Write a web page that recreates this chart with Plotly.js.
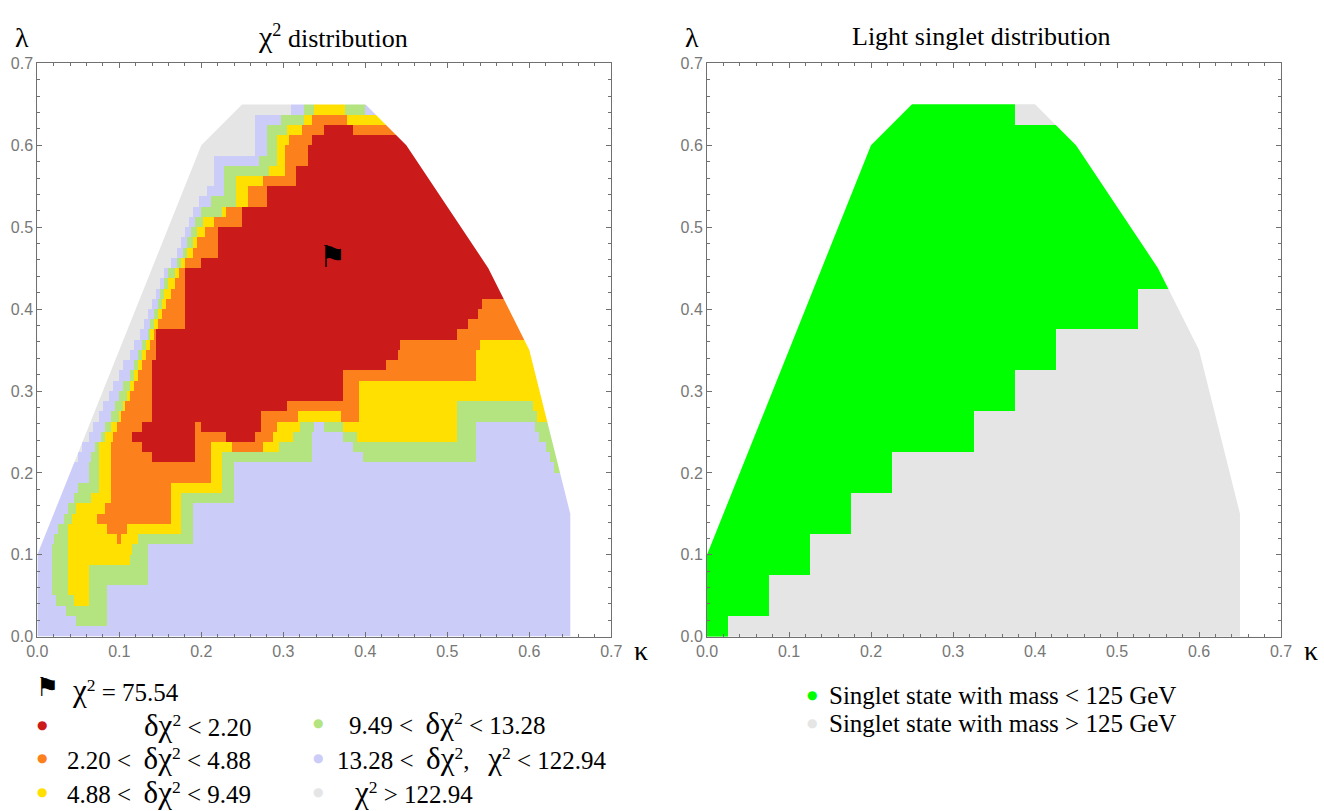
<!DOCTYPE html>
<html>
<head>
<meta charset="utf-8">
<script src="https://cdn.plot.ly/plotly-3.0.1.min.js"></script>
<style>
  html, body { margin: 0; padding: 0; background: #fff; }
  #plot { width: 1324px; height: 811px; }
</style>
</head>
<body>
<div id="plot"></div>
<script>
// scan grid, same points in both panels
const kappaGrid = [0, 0.05, 0.1, 0.15, 0.2, 0.25, 0.3, 0.35, 0.4, 0.45, 0.5, 0.55, 0.6, 0.65];
const lambdaGrid = [0, 0.05, 0.1, 0.15, 0.2, 0.25, 0.3, 0.35, 0.4, 0.45, 0.5, 0.55, 0.6, 0.65];
// highest lambda scanned at each kappa (every column starts at lambda = 0)
const scanTop = [0.1, 0.2, 0.35, 0.45, 0.6, 0.65, 0.65, 0.65, 0.65, 0.6, 0.5, 0.45, 0.35, 0.15];

// right panel: 1 = singlet lighter than 125 GeV, 0 = heavier. rows from lambda 0.65 down to 0
const singletRows = [
  '11111111011100',
  '11111111111100',
  '11111111111100',
  '11111111111100',
  '11111111111100',
  '11111111111000',
  '11111111100000',
  '11111111000000',
  '11111110000000',
  '11111000000000',
  '11110000000000',
  '11100000000000',
  '11000000000000',
  '10000000000000'
];
const singletColors = ['#e5e5e5', '#00ff00'];
const singletLegend = ['Singlet state with mass < 125 GeV', 'Singlet state with mass > 125 GeV'];

// left panel: chi2 classes, R O Y G L W
const chiClasses = ['R', 'O', 'Y', 'G', 'L', 'W'];
const chiColors = ['#cb1a1a', '#fc801b', '#ffe000', '#b3e480', '#ccccf9', '#e5e5e5'];
const chiLegend = [
  'δχ² < 2.20',
  '2.20 <  δχ² < 4.88',
  '4.88 <  δχ² < 9.49',
  '9.49 <  δχ² < 13.28',
  '13.28 <  δχ²,   χ² < 122.94',
  'χ² > 122.94'
];
// strips of height chiRowStep from lambda = 0 upwards; "class kappaStart" runs left to right
const chiRowStep = 0.0125;
const chiRows = [
  'L0',
  'L0 G.048 L.084',
  'L0 G.036 L.084',
  'L0 G.023 Y.044 G.063 L.084',
  'L0 G.017 Y.038 G.063 L.084',
  'L0 G.017 Y.038 G.063 L.134',
  'L0 G.017 Y.038 G.063 L.134',
  'L0 G.017 Y.038 G.113 L.134',
  'L0 G.017 Y.038 G.116 L.134',
  'L0 G.019 Y.038 O.098 Y.103 G.123 L.190',
  'L0 G.025 Y.038 O.086 Y.109 G.176 L.190',
  'L0 G.032 Y.042 O.072 Y.163 G.176 L.190',
  'L0 G.038 Y.048 O.082 Y.163 G.176 L.190',
  'L0 G.045 Y.066 O.089 Y.163 G.176 L.240',
  'L0 G.051 Y.075 O.089 Y.163 G.226 L.240',
  'L0 G.062 Y.075 O.089 Y.212 G.226 L.240',
  'L0 G.062 Y.075 O.089 Y.212 G.226 L.240 G.631',
  'W0 L.050 G.065 Y.075 O.089 R.139 O.192 Y.212 G.225 L.335 G.397 L.534 G.624',
  'W0 L.056 G.071 Y.075 O.089 R.128 O.192 Y.212 O.237 Y.274 G.296 L.335 G.385 L.534 G.619',
  'W0 L.063 G.077 Y.082 O.093 R.115 O.192 R.229 O.266 Y.288 G.312 L.335 G.372 Y.390 G.513 L.534 G.612',
  'W0 L.068 G.083 Y.091 O.098 R.127 O.192 R.201 O.272 Y.292 G.320 L.338 G.351 Y.372 G.513 L.534 G.607',
  'W0 L.075 G.089 Y.100 O.103 R.139 O.272 Y.317 O.370 Y.392 G.513 Y.610',
  'W0 L.081 G.094 Y.104 O.108 R.139 O.305 Y.392 G.513 Y.604',
  'W0 L.087 G.100 Y.109 O.113 R.139 O.372 Y.392',
  'W0 L.093 G.106 Y.113 O.118 R.139 O.372 Y.392',
  'W0 L.099 G.112 Y.118 O.123 R.139 O.372 Y.535',
  'W0 L.105 G.118 Y.122 O.128 R.139 O.426 Y.535',
  'W0 L.112 G.123 Y.127 O.133 R.145 O.439 Y.535',
  'W0 L.118 G.128 Y.132 O.138 R.145 O.443 Y.541',
  'W0 L.124 G.134 Y.138 O.143 R.145 O.513',
  'W0 L.130 G.138 Y.142 O.147 R.179 O.525',
  'W0 L.135 G.143 Y.147 O.152 R.179 O.538',
  'W0 L.140 G.147 Y.152 O.157 R.179 O.543',
  'W0 L.144 G.151 Y.156 O.162 R.179',
  'W0 L.149 G.155 Y.161 O.167 R.179',
  'W0 L.155 G.161 Y.167 O.172 R.179',
  'W0 L.163 G.169 Y.175 O.180 R.199',
  'W0 L.171 G.177 Y.183 O.190 R.220',
  'W0 L.176 G.182 Y.189 O.196 R.220',
  'W0 L.180 G.188 Y.195 O.204 R.220',
  'W0 L.185 G.192 Y.202 O.214 R.249',
  'W0 L.191 G.200 Y.225 O.229 R.249',
  'W0 L.197 G.213 Y.243 O.257 R.280',
  'W0 L.208 G.228 Y.243 O.257 R.280',
  'W0 L.215 G.228 Y.243 O.275 R.316',
  'W0 L.215 G.228 Y.282 O.302 R.316',
  'W0 L.215 G.271 Y.292 O.302 R.329',
  'W0 L.266 G.280 Y.292 O.302 R.329',
  'W0 L.266 G.280 Y.292 O.308 R.334',
  'W0 L.266 G.280 Y.305 O.322 R.349 O.385',
  'W0 L.266 G.298 Y.324 O.335 Y.378',
  'W0 L.309 G.324 Y.337 G.376 L.401'
];

const bestFit = { kappa: 0.36, lambda: 0.461, chi2: 75.54 };

// ---- helpers ----
function convexHull(pts) {
  pts = pts.slice().sort((a, b) => a[0] - b[0] || a[1] - b[1]);
  const cross = (o, a, b) => (a[0] - o[0]) * (b[1] - o[1]) - (a[1] - o[1]) * (b[0] - o[0]);
  const lower = [], upper = [];
  for (const p of pts) {
    while (lower.length >= 2 && cross(lower[lower.length - 2], lower[lower.length - 1], p) <= 1e-12) lower.pop();
    lower.push(p);
  }
  for (let i = pts.length - 1; i >= 0; i--) {
    const p = pts[i];
    while (upper.length >= 2 && cross(upper[upper.length - 2], upper[upper.length - 1], p) <= 1e-12) upper.pop();
    upper.push(p);
  }
  lower.pop(); upper.pop();
  return lower.concat(upper);
}

function stepScale(colors) {
  const n = colors.length, cs = [];
  colors.forEach((c, i) => { cs.push([i / n, c]); cs.push([(i + 1) / n, c]); });
  return cs;
}

// scanned region = hull of the scan points
const scanPts = [];
kappaGrid.forEach((k, i) => { scanPts.push([k, 0]); scanPts.push([k, scanTop[i]]); });
const hull = convexHull(scanPts);

// white cover over everything outside the scanned region
function maskTrace(xa, ya) {
  const lo = -0.05, hi = 0.75;
  const xs = [lo, hi, hi, lo, lo], ys = [lo, lo, hi, hi, lo];
  const h = hull.slice().reverse();
  h.push(h[0]);
  h.forEach(p => { xs.push(p[0]); ys.push(p[1]); });
  xs.push(lo); ys.push(lo);
  return {
    type: 'scatter', x: xs, y: ys, xaxis: xa, yaxis: ya, mode: 'lines',
    fill: 'toself', fillcolor: '#ffffff', line: { width: 0, color: '#ffffff', simplify: false },
    hoverinfo: 'skip', showlegend: false
  };
}

// left panel cells
const fineStep = 0.0025;
const chiX = [];
for (let k = 0; k <= 264; k++) chiX.push(+(k * fineStep).toFixed(4));
const chiY = chiRows.map((_, j) => +(j * chiRowStep).toFixed(4));
chiY.push(+(chiRows.length * chiRowStep).toFixed(4));
const chiZ = chiRows.map(row => {
  const runs = row.split(' ').map(t => [chiClasses.indexOf(t[0]), parseFloat(t.slice(1))]);
  const line = [];
  for (let k = 0; k < chiX.length - 1; k++) {
    const c = (chiX[k] + chiX[k + 1]) / 2;
    let v = runs[0][0];
    for (const r of runs) if (r[1] <= c) v = r[0];
    line.push(v);
  }
  return line;
});

// right panel cells, bottom row first
const singletZ = singletRows.slice().reverse().map(r => r.split('').map(Number));

const data = [
  {
    type: 'heatmap', x: chiX, y: chiY, z: chiZ, xaxis: 'x', yaxis: 'y',
    zmin: -0.5, zmax: chiColors.length - 0.5, colorscale: stepScale(chiColors),
    showscale: false, hoverinfo: 'skip'
  },
  maskTrace('x', 'y'),
  {
    type: 'scatter', mode: 'text', x: [bestFit.kappa], y: [bestFit.lambda],
    text: ['⚑'], textposition: 'middle center', xaxis: 'x', yaxis: 'y',
    textfont: { family: 'DejaVu Sans', size: 30, color: '#000' },
    hoverinfo: 'skip', showlegend: false
  },
  {
    type: 'heatmap', x: kappaGrid, y: lambdaGrid, z: singletZ, xaxis: 'x2', yaxis: 'y2',
    zmin: -0.5, zmax: 1.5, colorscale: stepScale(singletColors),
    showscale: false, hoverinfo: 'skip'
  },
  maskTrace('x2', 'y2')
];

const W = 1324, H = 811;
const px = x => x / W, py = y => 1 - y / H;
const frameColor = '#707070';

function frameAxis(domain, anchor) {
  return {
    domain: domain, anchor: anchor, range: [0, 0.7], tick0: 0, dtick: 0.1, tickformat: '.1f',
    ticks: 'inside', ticklen: 5, tickwidth: 1, tickcolor: frameColor,
    minor: { dtick: 0.02, ticks: 'inside', ticklen: 3, tickwidth: 1, tickcolor: frameColor },
    showline: true, linecolor: frameColor, linewidth: 1, mirror: 'ticks',
    showgrid: false, zeroline: false, fixedrange: true,
    tickfont: { family: 'Liberation Sans', size: 16, color: '#777' }
  };
}

const yDom = [(H - 636.7) / H, (H - 63.4) / H];

const serif = 'Liberation Serif';
function fmt(s, big) {
  const b = big || 31;
  return s.replace(/ /g, '\u00a0')
    .replace(/δχ²/g, '<span style="font-size:' + b + 'px">δχ</span><sup>2</sup>')
    .replace(/(^|[^>δ])χ²/g, '$1<span style="font-size:' + b + 'px">χ</span><sup>2</sup>');
}

const ann = [];
function txt(x, y, text, size, anchor, color, family) {
  ann.push({
    xref: 'paper', yref: 'paper', x: px(x), y: py(y), text: text, showarrow: false,
    xanchor: anchor || 'center', yanchor: 'middle',
    font: { family: family || serif, size: size, color: color || '#000' }
  });
}

// titles and axis labels
txt(333, 36, fmt('χ² distribution', 30), 26);
txt(981, 36, 'Light singlet distribution', 26);
txt(22, 37, 'λ', 28);
txt(692, 37, 'λ', 28);
txt(641, 650, 'κ', 28);
txt(1311, 650, 'κ', 28);

// chi2 legend
txt(47, 687, '⚑', 26, 'center', '#000', 'DejaVu Sans');
txt(70, 690, fmt('χ² = ' + bestFit.chi2.toFixed(2)), 25, 'left');
const dotPos = [[42, 725], [42, 758], [42, 792], [318, 723], [318, 758], [318, 792]];
const textPos = [[253, 'right'], [253, 'right'], [253, 'right'], [347, 'left'], [335, 'left'], [352, 'left']];
chiLegend.forEach((s, i) => {
  txt(dotPos[i][0], dotPos[i][1], '●', 12, 'center', chiColors[i], 'DejaVu Sans');
  txt(textPos[i][0], dotPos[i][1], fmt(s), 25, textPos[i][1]);
});

// singlet legend
singletLegend.forEach((s, i) => {
  const y = 695 + 28 * i;
  txt(812, y, '●', 12, 'center', singletColors[1 - i], 'DejaVu Sans');
  txt(827, y, s, 25, 'left');
});

const layout = {
  width: W, height: H,
  margin: { l: 0, r: 0, t: 0, b: 0 },
  paper_bgcolor: '#ffffff', plot_bgcolor: '#ffffff',
  showlegend: false,
  xaxis: frameAxis([37.3 / W, 611.3 / W], 'y'),
  yaxis: frameAxis(yDom, 'x'),
  xaxis2: frameAxis([707 / W, 1281 / W], 'y2'),
  yaxis2: frameAxis(yDom, 'x2'),
  annotations: ann
};

Plotly.newPlot('plot', data, layout, { displayModeBar: false, staticPlot: true });
</script>
</body>
</html>
